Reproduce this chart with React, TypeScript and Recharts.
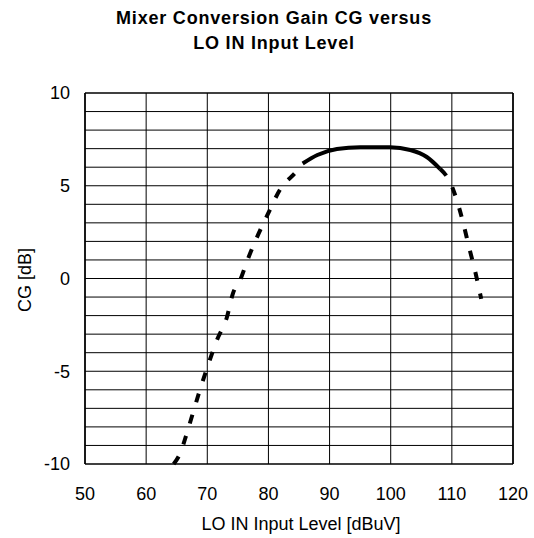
import React from 'react';
import { LineChart, Line, XAxis, YAxis, CartesianGrid, ReferenceLine } from 'recharts';

// LO IN level (dBuV) vs conversion gain (dB)
const riseLevel = [64.5, 65.6, 66.6, 67.7, 68.8, 70.1, 71.6, 73.2, 74.2, 75.35, 76.7, 78.1, 79.8, 82.1, 84.4, 85.6];
const riseGain = [-10.0, -9.4, -8.4, -7.2, -6.0, -4.7, -3.3, -2.1, -0.8, -0.1, 1.1, 2.2, 3.4, 4.9, 5.7, 6.2];

const peakLevel = [85.6, 88.0, 91.2, 95.0, 99.9, 103.2, 105.9, 108.1];
const peakGain = [6.2, 6.66, 6.98, 7.08, 7.08, 6.93, 6.55, 5.9];

const fallLevel = [108.1, 109.7, 111.2, 112.0, 112.8, 113.8, 114.8];
const fallGain = [5.9, 5.2, 3.8, 2.8, 1.7, 0.4, -1.1];

const xTicks = [50, 60, 70, 80, 90, 100, 110, 120];
const yTicks = [-10, -5, 0, 5, 10];
const yGrid = [-9, -8, -7, -6, -5, -4, -3, -2, -1, 0, 1, 2, 3, 4, 5, 6, 7, 8, 9];

const pairs = (xs: number[], ys: number[]) => xs.map((x, i) => ({ level: x, gain: ys[i] }));

const riseData = pairs(riseLevel, riseGain);
const peakData = pairs(peakLevel, peakGain);
const fallData = pairs(fallLevel, fallGain);

const FONT = 'Arial, "Liberation Sans", sans-serif';

export default function App() {
  return (
    <div style={{ position: 'absolute', left: 0, top: 0, width: 534, height: 538, background: '#fff', fontFamily: FONT }}>
      <div
        style={{
          position: 'absolute',
          left: 74,
          top: 6,
          width: 400,
          textAlign: 'center',
          fontSize: 18,
          fontWeight: 'bold',
          lineHeight: '25px',
          letterSpacing: 0.8,
          color: '#000',
        }}
      >
        Mixer Conversion Gain CG versus
        <br />
        LO IN Input Level
      </div>
      <LineChart width={534} height={538} margin={{ top: 93, right: 21, left: 25, bottom: 44 }}>
        <CartesianGrid stroke="#000" strokeWidth={1} horizontal={false} />
        {yGrid.map((v) => (
          <ReferenceLine key={v} y={v} stroke="#000" strokeWidth={1} />
        ))}
        {/* plot frame, top and right */}
        <ReferenceLine y={10} stroke="#000" strokeWidth={1.6} />
        <ReferenceLine x={120} stroke="#000" strokeWidth={1.6} />
        <XAxis
          type="number"
          dataKey="level"
          domain={[50, 120]}
          ticks={xTicks}
          height={30}
          tickLine={false}
          tickSize={0}
          tickMargin={23}
          axisLine={{ stroke: '#000', strokeWidth: 1.6 }}
          tick={{ fill: '#000', fontSize: 18, fontFamily: FONT }}
          label={{
            content: () => (
              <text x={301} y={530} textAnchor="middle" fontSize={18} fontFamily={FONT} fill="#000">
                LO IN Input Level [dBuV]
              </text>
            ),
          }}
        />
        <YAxis
          type="number"
          domain={[-10, 10]}
          ticks={yTicks}
          width={60}
          tickLine={false}
          tickSize={0}
          tickMargin={15}
          axisLine={{ stroke: '#000', strokeWidth: 1.6 }}
          tick={{ fill: '#000', fontSize: 18, fontFamily: FONT }}
          label={{
            content: () => (
              <text x={31} y={280} transform="rotate(-90 31 280)" textAnchor="middle" fontSize={18} fontFamily={FONT} fill="#000">
                CG [dB]
              </text>
            ),
          }}
        />
        <Line data={riseData} dataKey="gain" type="monotone" stroke="#000" strokeWidth={4} strokeDasharray="9 13" dot={false} isAnimationActive={false} />
        <Line data={peakData} dataKey="gain" type="monotone" stroke="#000" strokeWidth={4} dot={false} isAnimationActive={false} />
        <Line data={fallData} dataKey="gain" type="monotone" stroke="#000" strokeWidth={4} strokeDasharray="9 13" dot={false} isAnimationActive={false} />
      </LineChart>
    </div>
  );
}
